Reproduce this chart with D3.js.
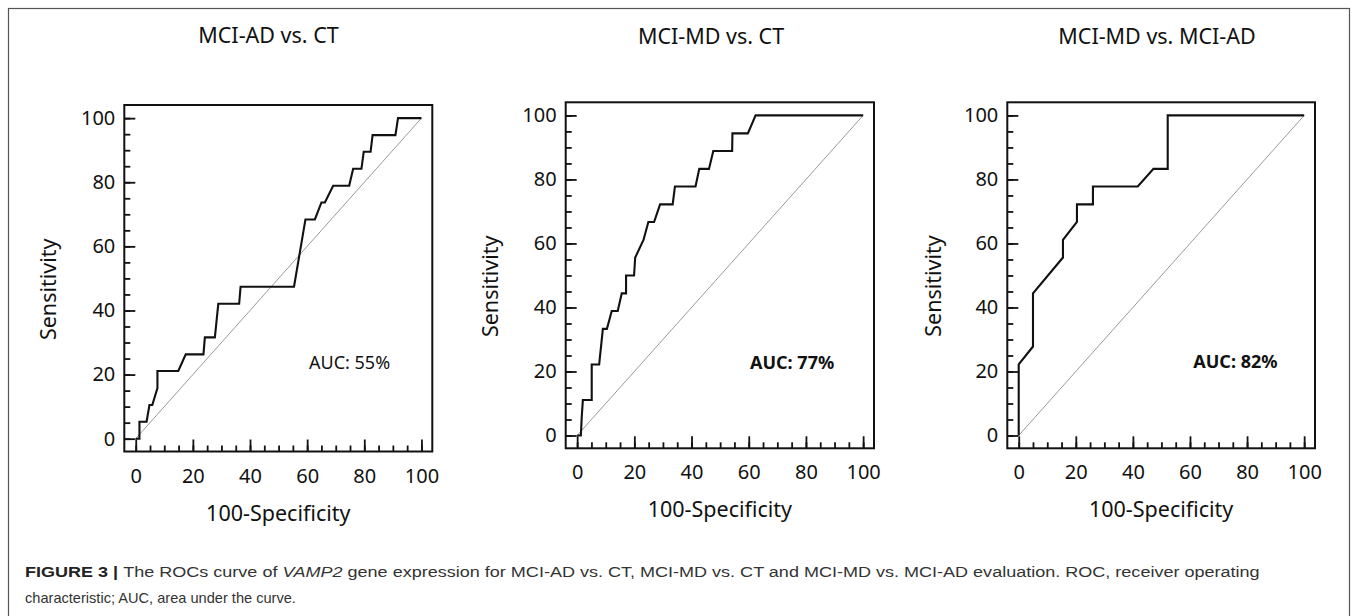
<!DOCTYPE html>
<html><head><meta charset="utf-8">
<script src="https://cdn.jsdelivr.net/npm/d3@7"></script>
<style>html,body{margin:0;padding:0;background:#fff;} svg{display:block}</style>
</head><body>
<svg id="chart" width="1357" height="616"></svg>
<script>
// ---------- data ----------
const panelTitles = ["MCI-AD vs. CT", "MCI-MD vs. CT", "MCI-MD vs. MCI-AD"];
const aucLabels = ["AUC: 55%", "AUC: 77%", "AUC: 82%"];
const xTickValues = [0, 20, 40, 60, 80, 100];
const yTickValues = [0, 20, 40, 60, 80, 100];
const minorTickValues = [0,5,10,15,20,25,30,35,40,45,50,55,60,65,70,75,80,85,90,95,100];
const xAxisLabel = "100-Specificity";
const yAxisLabel = "Sensitivity";

// 100-Specificity (x) and Sensitivity (y) for each ROC curve
const adVsCtX = [0,1.3,1.3,3.8,4.8,5.8,7.6,7.6,14.9,17.5,23.7,24.2,27.7,28.9,36.2,36.7,55.4,59.4,62.7,65.0,66.2,69.1,74.7,76.1,79.0,79.8,82.2,82.9,90.9,91.8,100];
const adVsCtY = [0,0,5.3,5.3,10.5,10.5,15.8,21.1,21.1,26.3,26.3,31.6,31.6,42.1,42.1,47.4,47.4,68.4,68.4,73.7,73.7,78.9,78.9,84.2,84.2,89.5,89.5,94.7,94.7,100,100];

const mdVsCtX = [0,1.3,1.6,2.0,5.1,5.1,7.7,9.0,10.4,12.1,14.2,15.6,17.1,17.1,19.9,20.3,23.2,24.9,26.9,29.0,33.4,34.2,41.4,42.7,46.1,47.6,54.2,54.3,59.7,62.4,100];
const mdVsCtY = [0,0,5.6,11.1,11.1,22.2,22.2,33.3,33.3,38.9,38.9,44.4,44.4,50.0,50.0,55.6,61.1,66.7,66.7,72.2,72.2,77.8,77.8,83.3,83.3,88.9,88.9,94.4,94.4,100,100];

const mdVsAdX = [0,0,5.0,5.0,15.5,15.5,20.4,20.4,26.0,26.0,41.7,47.2,52.2,52.2,100];
const mdVsAdY = [0,22.2,27.8,44.4,55.6,61.1,66.7,72.2,72.2,77.8,77.8,83.3,83.3,100,100];

const chanceX = [0, 100];
const chanceY = [0, 100];

const curveX = [adVsCtX, mdVsCtX, mdVsAdX];
const curveY = [adVsCtY, mdVsCtY, mdVsAdY];

const captionLead = "FIGURE 3 | ";
const captionPart1 = "The ROCs curve of ";
const captionGene = "VAMP2";
const captionPart2 = " gene expression for MCI-AD vs. CT, MCI-MD vs. CT and MCI-MD vs. MCI-AD evaluation. ROC, receiver operating";
const captionLine2 = "characteristic; AUC, area under the curve.";

// ---------- layout ----------
const layout = [
  {left:124.3, top:105.0, right:432.3, bottom:451.5, titleX:268.5, titleY:43.3, ylabX:56, ylabY:289.3, aucX:309, aucY:369, bold:false},
  {left:565.7, top:102.3, right:874.0, bottom:448.3, titleX:711, titleY:44.3, ylabX:498.3, ylabY:286.3, aucX:750, aucY:369, bold:true},
  {left:1007.3, top:102.3, right:1315.0, bottom:448.3, titleX:1157, titleY:44.3, ylabX:940.7, ylabY:286, aucX:1193.3, aucY:367.7, bold:true}
];

const FONT = "'Noto Sans', 'Open Sans', sans-serif";
const svg = d3.select("#chart");
svg.append("rect").attr("width",1357).attr("height",616).attr("fill","#fff");
// outer figure frame
svg.append("rect").attr("x",8.5).attr("y",8.5).attr("width",1341).attr("height",700)
  .attr("fill","none").attr("stroke","#555").attr("stroke-width",1.2);

layout.forEach((L, i) => {
  const g = svg.append("g");
  const x = d3.scaleLinear().domain([-4, 103.8]).range([L.left, L.right]);
  const y = d3.scaleLinear().domain([-4, 104.1]).range([L.bottom, L.top]);

  // title
  g.append("text").attr("x", L.titleX).attr("y", L.titleY)
    .attr("text-anchor","middle").attr("font-family",FONT).attr("font-size",21.5)
    .attr("fill","#111").text(panelTitles[i]);

  // chance line
  const pts = chanceX.map((v,k)=>[v, chanceY[k]]);
  g.append("path").attr("d", d3.line().x(d=>x(d[0])).y(d=>y(d[1]))(pts))
    .attr("fill","none").attr("stroke","#9a9a9a").attr("stroke-width",1);

  // ROC curve
  const cp = curveX[i].map((v,k)=>[v, curveY[i][k]]);
  g.append("path").attr("d", d3.line().x(d=>x(d[0])).y(d=>y(d[1]))(cp))
    .attr("fill","none").attr("stroke","#111").attr("stroke-width",2.1)
    .attr("stroke-linejoin","miter");

  // minor ticks
  const xMinor = g.append("g").attr("transform",`translate(0,${L.bottom})`)
    .call(d3.axisBottom(x).tickValues(minorTickValues).tickSize(-6).tickFormat(""));
  const yMinor = g.append("g").attr("transform",`translate(${L.left},0)`)
    .call(d3.axisLeft(y).tickValues(minorTickValues).tickSize(-6).tickFormat(""));
  // major ticks + labels
  const xAx = g.append("g").attr("transform",`translate(0,${L.bottom})`)
    .call(d3.axisBottom(x).tickValues(xTickValues).tickSize(-12).tickPadding(17));
  const yAx = g.append("g").attr("transform",`translate(${L.left},0)`)
    .call(d3.axisLeft(y).tickValues(yTickValues).tickSize(-11).tickPadding(9));
  [xMinor,yMinor,xAx,yAx].forEach(a=>{
    a.select(".domain").remove();
    a.selectAll("line").attr("stroke","#111").attr("stroke-width",1.8);
    a.selectAll("text").attr("font-family",FONT).attr("font-size",20).attr("fill","#111");
  });

  // plot frame
  g.append("rect").attr("x",L.left).attr("y",L.top)
    .attr("width",L.right-L.left).attr("height",L.bottom-L.top)
    .attr("fill","none").attr("stroke","#111").attr("stroke-width",2);

  // axis labels
  g.append("text").attr("x",(L.left+L.right)/2).attr("y",L.bottom+69)
    .attr("text-anchor","middle").attr("font-family",FONT).attr("font-size",21.5)
    .attr("fill","#111").text(xAxisLabel);
  g.append("text").attr("transform",`translate(${L.ylabX},${L.ylabY}) rotate(-90)`)
    .attr("text-anchor","middle").attr("font-family",FONT).attr("font-size",21.5)
    .attr("fill","#111").text(yAxisLabel);

  // AUC
  g.append("text").attr("x",L.aucX).attr("y",L.aucY)
    .attr("font-family",FONT).attr("font-size",18)
    .attr("font-weight", L.bold ? "bold" : "normal")
    .attr("fill","#111").text(aucLabels[i]);
});

// caption (first line stretched horizontally to the reference width)
const CAP = "'Liberation Sans', Arial, sans-serif";
const c1 = svg.append("text").attr("x",0).attr("y",0)
  .attr("font-family",CAP).attr("font-size",15).attr("fill","#333");
c1.append("tspan").attr("font-weight","bold").attr("fill","#222").text(captionLead);
c1.append("tspan").text(captionPart1);
c1.append("tspan").attr("font-style","italic").text(captionGene);
c1.append("tspan").text(captionPart2);
const targetWidth = 1235;
const natural = c1.node().getComputedTextLength();
c1.attr("transform", `translate(25,577) scale(${(targetWidth / natural).toFixed(4)},1)`);

svg.append("text").attr("x",25).attr("y",603)
  .attr("font-family",CAP).attr("font-size",14.6).attr("fill","#333").text(captionLine2);
</script>
</body></html>
